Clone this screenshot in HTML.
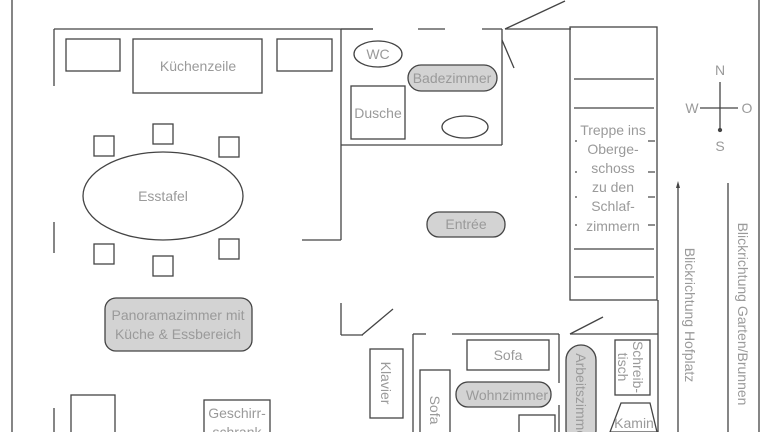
<!DOCTYPE html>
<html><head><meta charset="utf-8"><style>
html,body{margin:0;padding:0;background:#fff;width:768px;height:432px;overflow:hidden}
svg{display:block}
text{font-family:"Liberation Sans",sans-serif;fill:#9a9a9a;stroke:none;font-size:14px;text-anchor:middle;dominant-baseline:central}
</style></head><body>
<svg width="768" height="432" viewBox="0 0 768 432" stroke="#444" stroke-width="1.3" fill="none">
<line x1="12" y1="0" x2="12" y2="432"/>
<line x1="759" y1="0" x2="759" y2="432"/>
<line x1="54" y1="29" x2="373" y2="29"/>
<line x1="54" y1="29" x2="54" y2="86"/>
<line x1="54" y1="222" x2="54" y2="253"/>
<line x1="54" y1="408" x2="54" y2="432"/>
<rect x="66" y="39" width="54" height="32"/>
<rect x="133" y="39" width="129" height="54"/>
<rect x="277" y="39" width="55" height="32"/>
<text x="198" y="66">Küchenzeile</text>
<rect x="94" y="136" width="20" height="20"/>
<rect x="153" y="124" width="20" height="20"/>
<rect x="219" y="137" width="20" height="20"/>
<rect x="94" y="244" width="20" height="20"/>
<rect x="153" y="256" width="20" height="20"/>
<rect x="219" y="239" width="20" height="20"/>
<ellipse cx="163" cy="196" rx="80" ry="44"/>
<text x="163" y="196">Esstafel</text>
<rect x="105" y="298" width="147" height="53" rx="11" fill="#d3d3d3"/>
<text x="178" y="315">Panoramazimmer mit</text>
<text x="178" y="334">Küche &amp; Essbereich</text>
<rect x="71" y="395" width="44" height="40"/>
<rect x="204" y="400" width="66" height="40"/>
<text x="237" y="413">Geschirr-</text>
<text x="237" y="432">schrank</text>
<line x1="341" y1="29" x2="373" y2="29"/>
<line x1="418" y1="29" x2="445" y2="29"/>
<line x1="482" y1="29" x2="502" y2="29"/>
<line x1="505" y1="29" x2="571" y2="29"/>
<line x1="505" y1="29" x2="565" y2="1"/>
<line x1="502" y1="40" x2="514" y2="68"/>
<line x1="502" y1="29" x2="502" y2="145"/>
<line x1="341" y1="145" x2="502" y2="145"/>
<line x1="341" y1="29" x2="341" y2="240"/>
<line x1="302" y1="240" x2="341" y2="240"/>
<ellipse cx="378" cy="54" rx="24" ry="13"/>
<text x="378" y="54">WC</text>
<rect x="408" y="65" width="89" height="26" rx="13" fill="#d3d3d3"/>
<text x="452" y="78">Badezimmer</text>
<rect x="351" y="86" width="54" height="53"/>
<text x="378" y="113">Dusche</text>
<ellipse cx="465" cy="127" rx="23" ry="11"/>
<rect x="427" y="212" width="78" height="25" rx="12" fill="#d3d3d3"/>
<text x="466" y="224">Entrée</text>
<rect x="570" y="27" width="87" height="273"/>
<line x1="574" y1="79" x2="654" y2="79"/>
<line x1="574" y1="108" x2="654" y2="108"/>
<line x1="574" y1="249" x2="654" y2="249"/>
<line x1="574" y1="277" x2="654" y2="277"/>
<g stroke-width="1.2">
<line x1="575" y1="141" x2="577" y2="141"/><line x1="648" y1="141" x2="655" y2="141"/>
<line x1="575" y1="172" x2="577" y2="172"/><line x1="648" y1="172" x2="655" y2="172"/>
<line x1="575" y1="197" x2="577" y2="197"/><line x1="648" y1="197" x2="655" y2="197"/>
<line x1="575" y1="225" x2="577" y2="225"/><line x1="648" y1="225" x2="655" y2="225"/>
</g>
<text x="613" y="130">Treppe ins</text>
<text x="613" y="149">Oberge-</text>
<text x="613" y="168">schoss</text>
<text x="613" y="187">zu den</text>
<text x="613" y="206">Schlaf-</text>
<text x="613" y="226">zimmern</text>
<line x1="720" y1="82" x2="720" y2="130"/>
<line x1="700" y1="108" x2="738" y2="108"/>
<circle cx="720" cy="130" r="1.5" fill="#444"/>
<text x="720" y="70">N</text>
<text x="692" y="108">W</text>
<text x="747" y="108">O</text>
<text x="720" y="146">S</text>
<line x1="678" y1="186" x2="678" y2="432"/>
<polygon points="678,181 676,188 680,188" fill="#444" stroke="none"/>
<line x1="728" y1="183" x2="728" y2="432"/>
<text transform="translate(690,315) rotate(90)">Blickrichtung Hofplatz</text>
<text transform="translate(743,314) rotate(90)">Blickrichtung Garten/Brunnen</text>
<line x1="341" y1="303" x2="341" y2="335"/>
<line x1="341" y1="335" x2="363" y2="335"/>
<line x1="362" y1="335" x2="393" y2="309"/>
<line x1="413" y1="334" x2="426" y2="334"/>
<line x1="452" y1="334" x2="559" y2="334"/>
<line x1="413" y1="334" x2="413" y2="432"/>
<line x1="559" y1="334" x2="559" y2="383"/>
<line x1="559" y1="405" x2="559" y2="432"/>
<line x1="570" y1="334" x2="658" y2="334"/>
<line x1="570" y1="334" x2="603" y2="317"/>
<line x1="658" y1="300" x2="658" y2="432"/>
<rect x="370" y="349" width="33" height="69"/>
<text transform="translate(386,383) rotate(90)">Klavier</text>
<rect x="420" y="370" width="30" height="70"/>
<text transform="translate(435,410) rotate(90)">Sofa</text>
<rect x="467" y="340" width="82" height="30"/>
<text x="508" y="355">Sofa</text>
<rect x="456" y="382" width="95" height="25" rx="12" fill="#d3d3d3"/>
<text x="507" y="395">Wohnzimmer</text>
<rect x="519" y="415" width="36" height="25"/>
<rect x="566" y="345" width="30" height="100" rx="15" fill="#d3d3d3"/>
<text transform="translate(581,398) rotate(90)">Arbeitszimmer</text>
<rect x="615" y="340" width="35" height="55"/>
<text transform="translate(638,367) rotate(90)">Schreib-</text>
<text transform="translate(623,367) rotate(90)">tisch</text>
<polygon points="621,403 650,403 657,432 610,432"/>
<text x="634" y="423">Kamin</text>
</svg>
</body></html>
